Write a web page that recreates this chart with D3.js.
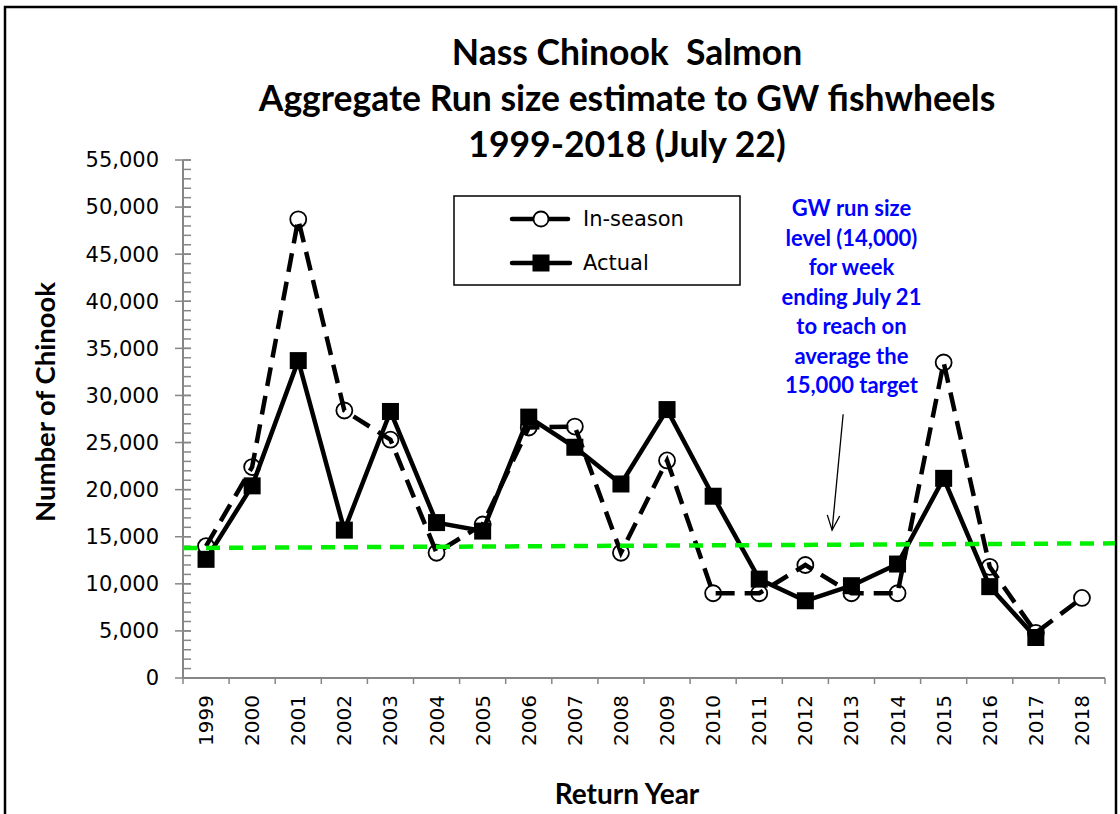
<!DOCTYPE html>
<meta charset="utf-8">
<style>

body {
  margin: 0;
  background: #fff;
}

.tick-label {
  font-family: "DejaVu Sans", sans-serif;
  fill: #000;
}

.bold {
  font-family: Lato, "Open Sans", sans-serif;
  font-weight: bold;
}

</style>
<body>
<div id="chart"></div>
<script src="https://d3js.org/d3.v7.min.js"></script>
<script>

// chart data
var years = ["1999", "2000", "2001", "2002", "2003", "2004", "2005", "2006", "2007", "2008",
             "2009", "2010", "2011", "2012", "2013", "2014", "2015", "2016", "2017", "2018"];
var inSeason = [14000, 22400, 48700, 28400, 25300, 13300, 16300, 26600, 26700, 13300,
                23100, 9000, 9000, 12000, 9000, 9000, 33500, 11800, 4800, 8500];
var actual = [12600, 20400, 33700, 15700, 28300, 16500, 15600, 27700, 24500, 20600,
              28500, 19300, 10500, 8200, 9800, 12100, 21200, 9700, 4300, null];
var yTicks = [0, 5000, 10000, 15000, 20000, 25000, 30000, 35000, 40000, 45000, 50000, 55000];
var titleLines = ["Nass Chinook  Salmon",
                  "Aggregate Run size estimate to GW fishwheels",
                  "1999-2018 (July 22)"];
var noteLines = ["GW run size", "level (14,000)", "for week", "ending July 21",
                 "to reach on", "average the", "15,000 target"];
// hand drawn green level line: value at its left end and at its right end
var levelLine = [13800, 14300];
// arrow from the note down to the level line: [position in years, value]
var arrowFrom = [13.82, 28000];
var arrowTo = [13.58, 15700];

var width = 1120,
    height = 814,
    plotLeft = 183,
    plotRight = 1105,
    plotTop = 160,
    plotBottom = 678;

var svg = d3.select("#chart").append("svg")
    .attr("width", width)
    .attr("height", height);

// outer frame
svg.append("rect")
    .attr("x", 5).attr("y", 7)
    .attr("width", 1111).attr("height", 840)
    .attr("fill", "none")
    .attr("stroke", "#000")
    .attr("stroke-width", 2.5);

var x = d3.scaleBand().domain(years).range([plotLeft, plotRight]);
var y = d3.scaleLinear().domain([0, 55000]).range([plotBottom, plotTop]);
// continuous position (year index) for the annotation marks
var xPos = d3.scaleLinear().domain([-0.5, years.length - 0.5]).range([plotLeft, plotRight]);

function cx(d, i) { return x(years[i]) + x.bandwidth() / 2; }

// title
svg.append("g").selectAll("text")
    .data(titleLines)
    .enter().append("text")
    .attr("class", "bold")
    .attr("x", 627)
    .attr("y", function(d, i) { return 65 + i * 46; })
    .attr("text-anchor", "middle")
    .style("font-size", "35.5px")
    .style("white-space", "pre")
    .text(function(d) { return d; });

// y axis
var yAxis = svg.append("g").attr("class", "y-axis");
yAxis.append("line")
    .attr("x1", plotLeft).attr("x2", plotLeft)
    .attr("y1", plotTop).attr("y2", plotBottom)
    .attr("stroke", "#868686").attr("stroke-width", 2);
yAxis.selectAll("line.minor")
    .data(d3.range(0, 55001, 1000))
    .enter().append("line")
    .attr("class", "minor")
    .attr("x1", plotLeft).attr("x2", plotLeft + 8)
    .attr("y1", function(d) { return y(d); })
    .attr("y2", function(d) { return y(d); })
    .attr("stroke", "#868686").attr("stroke-width", 1.5);
yAxis.selectAll("line.major")
    .data(yTicks)
    .enter().append("line")
    .attr("class", "major")
    .attr("x1", plotLeft - 8).attr("x2", plotLeft + 8)
    .attr("y1", function(d) { return y(d); })
    .attr("y2", function(d) { return y(d); })
    .attr("stroke", "#868686").attr("stroke-width", 1.5);
yAxis.selectAll("text")
    .data(yTicks)
    .enter().append("text")
    .attr("class", "tick-label")
    .attr("x", 159)
    .attr("y", function(d) { return y(d); })
    .attr("dy", "0.35em")
    .attr("text-anchor", "end")
    .style("font-size", "21px")
    .text(function(d) { return d3.format(",")(d); });

svg.append("text")
    .attr("class", "bold")
    .attr("transform", "translate(55,402) rotate(-90)")
    .attr("text-anchor", "middle")
    .style("font-size", "27.5px")
    .text("Number of Chinook");

// x axis
var xAxis = svg.append("g").attr("class", "x-axis");
xAxis.append("line")
    .attr("x1", plotLeft).attr("x2", plotRight)
    .attr("y1", plotBottom).attr("y2", plotBottom)
    .attr("stroke", "#868686").attr("stroke-width", 2);
xAxis.selectAll("line.tick")
    .data(d3.range(years.length + 1))
    .enter().append("line")
    .attr("class", "tick")
    .attr("x1", function(d) { return plotLeft + d * x.step(); })
    .attr("x2", function(d) { return plotLeft + d * x.step(); })
    .attr("y1", plotBottom).attr("y2", plotBottom + 6)
    .attr("stroke", "#868686").attr("stroke-width", 1.5);
xAxis.selectAll("text")
    .data(years)
    .enter().append("text")
    .attr("class", "tick-label")
    .attr("transform", function(d) {
        return "translate(" + (x(d) + x.bandwidth() / 2) + ",695) rotate(-90)";
    })
    .attr("dy", "0.35em")
    .attr("text-anchor", "end")
    .style("font-size", "20px")
    .text(function(d) { return d; });

svg.append("text")
    .attr("class", "bold")
    .attr("x", 627)
    .attr("y", 804)
    .attr("text-anchor", "middle")
    .style("font-size", "28px")
    .text("Return Year");

// in-season series: open circles with a dashed line over them
svg.append("g").selectAll("circle")
    .data(inSeason)
    .enter().append("circle")
    .attr("cx", cx)
    .attr("cy", function(d) { return y(d); })
    .attr("r", 8)
    .attr("fill", "#fff")
    .attr("stroke", "#000")
    .attr("stroke-width", 1.8);

var line = d3.line()
    .defined(function(d) { return d != null; })
    .x(cx)
    .y(function(d) { return y(d); });

svg.append("path")
    .datum(inSeason)
    .attr("d", line)
    .attr("fill", "none")
    .attr("stroke", "#000")
    .attr("stroke-width", 4.5)
    .attr("stroke-dasharray", "19,10");

// actual series
svg.append("path")
    .datum(actual)
    .attr("d", line)
    .attr("fill", "none")
    .attr("stroke", "#000")
    .attr("stroke-width", 4.5)
    .attr("stroke-linejoin", "round");

svg.append("g").selectAll("rect")
    .data(actual.map(function(v, i) { return {v: v, i: i}; })
                .filter(function(d) { return d.v != null; }))
    .enter().append("rect")
    .attr("x", function(d) { return cx(d.v, d.i) - 8.5; })
    .attr("y", function(d) { return y(d.v) - 8.5; })
    .attr("width", 17)
    .attr("height", 17)
    .attr("fill", "#000");

// green level line
svg.append("line")
    .attr("x1", plotLeft).attr("x2", 1115)
    .attr("y1", y(levelLine[0])).attr("y2", y(levelLine[1]))
    .attr("stroke", "#00f000")
    .attr("stroke-width", 4.5)
    .attr("stroke-dasharray", "14,9");

// legend
var legend = svg.append("g");
legend.append("rect")
    .attr("x", 454).attr("y", 196)
    .attr("width", 286).attr("height", 89)
    .attr("fill", "#fff")
    .attr("stroke", "#000")
    .attr("stroke-width", 1.5);
[[512, 533], [548, 568]].forEach(function(seg) {
    legend.append("line")
        .attr("x1", seg[0]).attr("x2", seg[1])
        .attr("y1", 219).attr("y2", 219)
        .attr("stroke", "#000").attr("stroke-width", 4.5)
        .attr("stroke-linecap", "round");
});
legend.append("circle")
    .attr("cx", 541).attr("cy", 219).attr("r", 7.5)
    .attr("fill", "#fff").attr("stroke", "#000").attr("stroke-width", 1.8);
legend.append("line")
    .attr("x1", 512).attr("x2", 570)
    .attr("y1", 263).attr("y2", 263)
    .attr("stroke", "#000").attr("stroke-width", 4.5)
    .attr("stroke-linecap", "round");
legend.append("rect")
    .attr("x", 532.5).attr("y", 254.5)
    .attr("width", 17).attr("height", 17)
    .attr("fill", "#000");
legend.selectAll("text")
    .data(["In-season", "Actual"])
    .enter().append("text")
    .attr("class", "tick-label")
    .attr("x", 583)
    .attr("y", function(d, i) { return 219 + i * 44; })
    .attr("dy", "0.35em")
    .style("font-size", "21px")
    .text(function(d) { return d; });

// blue note and its arrow
svg.append("g").selectAll("text")
    .data(noteLines)
    .enter().append("text")
    .attr("class", "bold")
    .attr("x", xPos(14.0))
    .attr("y", function(d, i) { return 216 + i * 29.5; })
    .attr("text-anchor", "middle")
    .attr("fill", "#0000ff")
    .style("font-size", "22px")
    .text(function(d) { return d; });

var ax1 = xPos(arrowFrom[0]), ay1 = y(arrowFrom[1]),
    ax2 = xPos(arrowTo[0]), ay2 = y(arrowTo[1]);
var ang = Math.atan2(ay2 - ay1, ax2 - ax1);
svg.append("line")
    .attr("x1", ax1).attr("y1", ay1)
    .attr("x2", ax2).attr("y2", ay2)
    .attr("stroke", "#000").attr("stroke-width", 1.3);
svg.append("path")
    .attr("d", "M" + (ax2 - 16 * Math.cos(ang - 0.4)) + "," + (ay2 - 16 * Math.sin(ang - 0.4)) +
               "L" + ax2 + "," + ay2 +
               "L" + (ax2 - 16 * Math.cos(ang + 0.4)) + "," + (ay2 - 16 * Math.sin(ang + 0.4)))
    .attr("fill", "none")
    .attr("stroke", "#000")
    .attr("stroke-width", 1.3);

</script>
